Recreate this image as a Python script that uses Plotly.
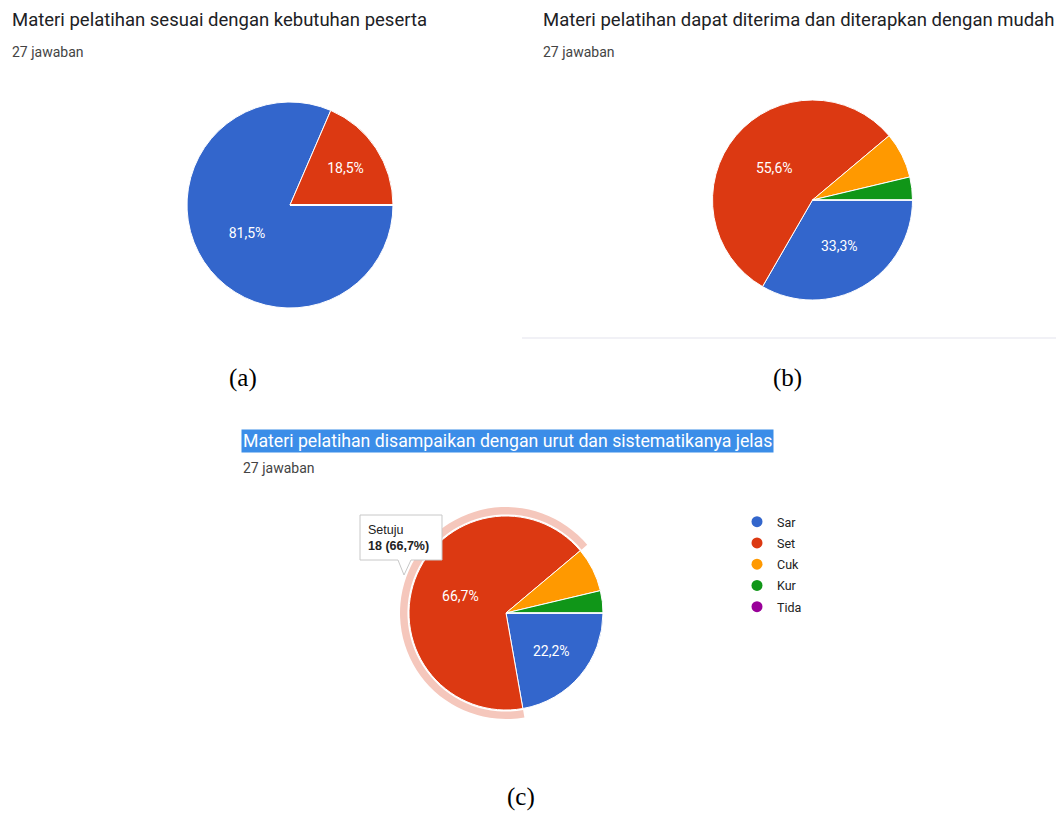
import plotly.graph_objects as go

# ---------------- data ----------------
categories = ["Sangat setuju", "Setuju", "Cukup setuju", "Kurang setuju", "Tidak setuju"]
legend_labels = ["Sar", "Set", "Cuk", "Kur", "Tida"]
colors = ["#3366cc", "#dc3912", "#ff9900", "#109618", "#990099"]

values_a = [22, 5, 0, 0, 0]
values_b = [9, 15, 2, 1, 0]
values_c = [6, 18, 2, 1, 0]

title_a = "Materi pelatihan sesuai dengan kebutuhan peserta"
title_b = "Materi pelatihan dapat diterima dan diterapkan dengan mudah"
title_c = "Materi pelatihan disampaikan dengan urut dan sistematikanya jelas"
responses = "27 jawaban"
panel_labels = ["(a)", "(b)", "(c)"]
highlight_index = 1  # "Setuju" slice hovered in (c)

W, H = 1056, 813


def px(x):
    return x / W


def py(y):
    return 1 - y / H


def dom(x0, x1, y0, y1):
    return dict(x=[px(x0), px(x1)], y=[py(y1), py(y0)])


def templates(vals, thr=0.1):
    tot = sum(vals)
    return ["%{percent:.1%}" if v / tot >= thr else "" for v in vals]


fig = go.Figure()

pie_common = dict(
    labels=categories,
    sort=False,
    direction="clockwise",
    rotation=90,
    marker=dict(colors=colors, line=dict(color="white", width=1)),
    textposition="inside",
    insidetextorientation="horizontal",
    textfont=dict(family="Roboto, Arial", size=14, color="white"),
    showlegend=False,
    hoverinfo="skip",
)

fig.add_trace(go.Pie(values=values_a, texttemplate=templates(values_a),
                     domain=dom(187, 393, 102, 308), **pie_common))
fig.add_trace(go.Pie(values=values_b, texttemplate=templates(values_b),
                     domain=dom(712, 913, 100, 300), **pie_common))

# highlight ring for hovered slice in (c)
ring_colors = ["rgba(0,0,0,0)"] * len(categories)
ring_colors[highlight_index] = "#f5c7bc"
fig.add_trace(go.Pie(
    values=values_c, labels=categories, sort=False, direction="clockwise", rotation=90,
    hole=0.93, marker=dict(colors=ring_colors, line=dict(width=0)),
    textinfo="none", showlegend=False, hoverinfo="skip",
    domain=dom(400, 612, 507, 719),
))
fig.add_trace(go.Pie(values=values_c, texttemplate=templates(values_c),
                     domain=dom(409, 603, 516, 710), **pie_common))

# legend entries (circle markers) for (c)
for lab, col in zip(legend_labels, colors):
    fig.add_trace(go.Scatter(
        x=[None], y=[None], mode="markers", name=lab,
        marker=dict(symbol="circle", size=11, color=col),
        legendgroup=lab, showlegend=True,
    ))

annotations = []
sub_font = dict(family="Roboto, Arial", size=14, color="#444")


def ann(x, y, text, font, **kw):
    d = dict(x=px(x), y=py(y), xref="paper", yref="paper", text=text, font=font,
             xanchor="left", yanchor="middle", showarrow=False)
    d.update(kw)
    annotations.append(d)


ann(10, 20, title_a, dict(family="Roboto, Arial", size=18.5, color="#202124"))
ann(10, 52, responses, sub_font)
ann(541, 20, title_b, dict(family="Roboto, Arial", size=18.5, color="#202124"))
ann(541, 52, responses, sub_font)
ann(241, 441, title_c, dict(family="Roboto, Arial", size=17.7, color="white"),
    bgcolor="#3b8de8", borderpad=1)
ann(241, 468, responses, sub_font)

for lab, (cx, cy) in zip(panel_labels, [(243, 378), (787, 378), (521, 797)]):
    ann(cx, cy, lab, dict(family="Liberation Serif, Times New Roman", size=25, color="black"),
        xanchor="center")

# tooltip text
tot_c = sum(values_c)
tip = (f"{categories[highlight_index]}<br><b>{values_c[highlight_index]} "
       f"({values_c[highlight_index] / tot_c * 100:.1f}%)</b>").replace(".", ",")
ann(366, 538, tip, dict(family="Arial, Liberation Sans", size=12.5, color="#222"), align="left")

shapes = []
# faint separator under (b)
shapes.append(dict(type="line", xref="paper", yref="paper",
                   x0=px(522), x1=px(1056), y0=py(338), y1=py(338),
                   line=dict(color="#f1f1f6", width=2)))
# tooltip box with tail
box = [(360, 515), (442, 515), (442, 560), (411, 560), (404, 575), (398, 560), (360, 560)]
path = "M " + " L ".join(f"{px(x):.5f},{py(y):.5f}" for x, y in box) + " Z"
shapes.append(dict(type="path", xref="paper", yref="paper", path=path,
                   fillcolor="white", line=dict(color="#c8c8c8", width=1), layer="above"))

fig.update_layout(
    width=W, height=H,
    margin=dict(l=0, r=0, t=0, b=0),
    paper_bgcolor="white", plot_bgcolor="white",
    separators=",.",
    xaxis=dict(visible=False), yaxis=dict(visible=False),
    annotations=annotations, shapes=shapes,
    legend=dict(x=px(737), y=py(507), xanchor="left", yanchor="top",
                traceorder="grouped", tracegroupgap=2,
                font=dict(family="Roboto, Arial", size=12.5, color="#222"),
                bgcolor="rgba(0,0,0,0)", itemwidth=30),
)

fig.write_html("out.html")
